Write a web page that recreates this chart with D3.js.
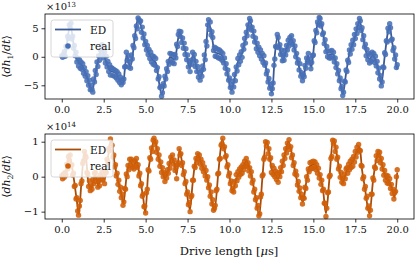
<!DOCTYPE html>
<html>
<head>
<meta charset="utf-8">
<script src="https://cdn.jsdelivr.net/npm/d3@7"></script>
<style>
body { margin: 0; background: #fff; }
text { font-family: "DejaVu Serif", "Liberation Serif", serif; }
</style>
</head>
<body>
<div id="chart"></div>
<script>
//time step of the measured points (us)
var dt = 0.05;

//x ticks
var xTicks = [0, 2.5, 5, 7.5, 10, 12.5, 15, 17.5, 20];
var yTicksTop = [-5, 0, 5];
var yTicksBottom = [-1, 0, 1];

//ED curve, panel 1 (units of 1e13): [time, value]
var edTop = [[0,0],[0.2,0.5],[0.5,5.5],[0.8,0.5],[1.0,-1],[1.2,-1.5],[1.5,-3.5],[1.8,-6],[2.1,-1.5],[2.4,1.5],
  [2.6,-0.5],[2.9,-2.5],[3.2,-2.8],[3.65,-4.7],[3.87,0.3],[4.07,-1.7],[4.56,6.6],[4.8,4.5],[5.0,2],[5.2,0.5],
  [5.4,-0.5],[5.6,-1],[5.95,-6.5],[6.25,-2.7],[6.45,0],[6.74,-0.5],[6.94,3.2],[7.04,4.3],[7.2,2.6],[7.44,0.2],
  [7.64,-2.0],[7.83,0.4],[8.0,-1.5],[8.23,-3.6],[8.43,-2.1],[8.63,2.6],[8.73,6.2],[8.9,4.5],[9.12,0.8],[9.42,0.5],
  [9.6,0],[9.82,-2.1],[10.12,-5.9],[10.32,-3.5],[10.5,-0.9],[10.7,0.2],[11.0,3.7],[11.2,6.4],[11.4,4.3],[11.6,2],
  [11.9,0.2],[12.1,-0.9],[12.3,-3.9],[12.54,-6.3],[12.7,0.2],[12.86,3.5],[13.0,1.5],[13.19,-0.4],[13.49,2.3],[13.69,3.2],
  [13.89,1.4],[14.08,-0.9],[14.29,-3.4],[14.38,-3.9],[14.58,-0.9],[14.68,0.2],[14.88,-1.8],[15.08,3.0],[15.38,6.6],[15.67,2.6],
  [15.87,0.3],[16.17,0.5],[16.37,-1.5],[16.57,-3.9],[16.76,-6.5],[16.96,-2.7],[17.16,0.8],[17.36,2.3],[17.56,4.3],[17.76,6.3],
  [17.95,3.7],[18.15,0.8],[18.35,-0.4],[18.55,0.2],[18.75,-0.9],[18.95,-3.3],[19.05,-4.8],[19.25,0],[19.44,4.3],[19.54,5.5],
  [19.7,2.5],[19.9,-0.5],[20.0,-2.2]];

//measured values, panel 1 (units of 1e13), one row per microsecond
var realTop = [
  0.2,-0.1,0.4,0.9,0.1,1.8,1.6,3.6,3.2,5.6,5.1,5.9,3.1,3.6,1.5,2.0,0.2,0.8,-0.9,-0.2,
  -1.6,-0.5,-2.0,-0.9,-2.2,-1.2,-2.9,-1.9,-3.4,-2.6,-4.2,-3.3,-5.0,-4.1,-5.8,-5.0,-5.7,-6.2,-3.9,-4.4,
  -2.4,-3.1,-0.9,-1.7,0.2,-0.6,1.2,0.3,2.1,1.6,-0.2,0.9,-1.1,0.1,-1.8,-0.8,-2.6,-1.4,-3.2,-1.9,
  -2.0,-3.3,-2.2,-3.4,-2.4,-3.7,-2.6,-4.1,-3.0,-4.5,-3.6,-4.9,-4.0,-4.5,-3.9,-1.8,-1.7,0.8,-0.6,0.2,
  -1.8,-0.9,-2.0,0.3,-0.4,2.0,1.6,3.7,3.2,5.4,4.9,6.8,6.5,6.1,6.3,4.3,5.2,3.3,4.0,2.1,
  2.7,1.2,2.0,0.4,1.3,-0.3,0.8,-0.9,0.2,-1.3,0.0,-1.5,-0.3,-2.4,-1.9,-3.9,-3.5,-5.4,-5.2,-6.9,
  -6.3,-4.7,-5.1,-3.4,-3.9,-2.1,-2.6,-0.8,-1.3,0.6,-0.7,0.5,-1.0,0.3,-1.2,0.4,-0.2,2.2,1.8,3.9,
  4.5,3.6,4.4,2.5,3.3,1.5,2.4,0.4,1.4,-0.5,0.3,-1.8,-0.9,-2.6,-0.6,-1.3,0.8,-0.4,0.4,-1.7,
  -0.8,-2.6,-1.7,-3.6,-2.7,-4.1,-2.4,-3.4,-1.6,-2.2,0.3,-0.5,2.7,1.9,5.6,6.5,4.8,6.1,3.8,4.4,
  3.4,1.1,1.7,0.1,1.5,0.0,1.3,-0.2,1.2,-0.3,0.9,-0.6,0.6,-1.1,-0.2,-2.0,-1.2,-3.0,-2.3,-4.1,
  -3.7,-5.4,-4.9,-6.2,-4.3,-5.3,-3.1,-4.2,-1.8,-2.5,-0.3,-1.4,0.3,-0.8,0.9,-0.1,2.0,1.3,3.2,2.4,
  4.3,3.7,5.6,5.0,6.7,6.3,4.7,5.2,3.6,4.5,2.6,3.3,1.4,2.4,0.8,1.7,0.2,1.2,-0.4,0.6,
  -1.0,0.2,-1.5,-1.1,-3.0,-2.5,-4.4,-3.8,-5.5,-4.9,-6.5,-5.6,-4.6,-1.5,-0.4,1.8,1.7,3.9,3.4,1.6,
  2.1,0.4,1.2,-0.7,0.3,-0.6,1.1,0.3,2.0,1.2,2.9,1.9,3.4,2.5,3.7,2.2,2.8,1.2,1.9,0.0,
  0.6,-1.1,-0.5,-2.3,-1.2,-3.4,-2.8,-4.2,-3.1,-3.5,-1.5,-2.0,-0.2,-0.8,0.6,-1.1,-0.4,-2.1,-1.0,0.2,
  0.3,2.8,2.5,4.6,4.2,6.1,5.6,6.9,6.7,5.4,5.8,3.9,4.2,2.3,3.0,0.9,1.8,0.0,1.0,-0.2,
  1.0,-0.2,1.1,0.0,0.8,-0.9,-0.2,-1.9,-1.2,-3.0,-2.4,-4.2,-3.7,-5.6,-5.2,-6.8,-6.2,-4.3,-4.4,-2.3,
  -2.6,-0.6,-1.0,1.2,0.5,2.1,1.3,2.9,2.1,3.9,3.2,4.9,4.1,5.8,5.1,6.7,6.3,4.6,5.1,3.0,
  3.7,1.7,2.2,0.2,1.3,-0.5,0.6,-1.1,0.4,-0.8,0.8,-0.4,0.6,-1.0,0.1,-1.6,-0.8,-2.8,-2.0,-3.9,
  -3.3,-5.1,-4.4,-1.8,-1.9,0.7,0.4,2.8,2.6,5.0,4.4,5.8,5.1,2.9,3.1,1.1,1.6,-0.4,0.3,-1.9,-1.4];

//ED curve, panel 2 (units of 1e14): [time, value]
var edBottom = [[0,0],[0.2,0.05],[0.45,0.6],[0.7,0.0],[0.9,-0.7],[1.02,-1.08],[1.15,-0.3],[1.3,0.55],[1.4,0.7],[1.58,-0.15],
  [1.75,-0.35],[1.98,0.05],[2.18,-0.25],[2.38,0.05],[2.55,-0.1],[2.77,0.6],[2.92,1.04],[3.17,0.32],[3.37,-0.15],[3.57,-0.53],
  [3.67,-0.77],[3.87,0.04],[4.07,0.45],[4.27,0.3],[4.46,0.45],[4.65,0.0],[4.86,-0.63],[4.98,-1.03],[5.15,0.1],[5.3,0.6],
  [5.52,1.08],[5.75,0.6],[5.95,0.23],[6.15,-0.06],[6.3,0.1],[6.55,0.55],[6.7,0.4],[6.85,0.05],[7.02,0.78],[7.2,0.3],
  [7.4,-0.25],[7.64,-0.95],[7.8,-0.2],[7.93,0.32],[8.13,0.62],[8.3,0.4],[8.63,0.04],[8.85,-0.45],[9.1,-0.97],[9.35,0.2],
  [9.57,1.07],[9.8,0.5],[10.0,0.0],[10.2,-0.42],[10.4,-0.05],[10.6,0.12],[10.8,0.23],[11.0,0.45],[11.3,0.04],[11.5,-0.44],
  [11.78,-1.1],[11.95,-0.1],[12.18,1.0],[12.4,0.6],[12.5,0.23],[12.7,0.1],[12.9,-0.05],[13.1,0.23],[13.29,0.6],[13.53,1.0],
  [13.8,0.42],[14.0,-0.06],[14.38,-0.72],[14.58,-0.15],[14.78,0.3],[15.08,0.35],[15.28,0.18],[15.57,-0.34],[15.75,-1.05],[15.95,-0.1],
  [16.17,1.07],[16.37,0.7],[16.57,0.13],[16.76,-0.15],[16.96,0.13],[17.16,0.32],[17.36,0.42],[17.66,0.8],[17.76,0.85],[17.9,0.2],
  [18.05,-0.25],[18.35,-1.06],[18.55,-0.15],[18.75,0.5],[18.9,0.68],[19.15,0.23],[19.34,-0.06],[19.5,-0.1],[19.74,-0.44],[19.84,-0.6],
  [20.0,0.12]];

//measured values, panel 2 (units of 1e14), one row per microsecond
var realBottom = [
  0.03,-0.06,0.08,-0.02,0.12,0.05,0.36,0.22,0.58,0.47,0.62,0.3,0.34,0.05,0.1,-0.28,-0.25,-0.64,-0.6,-0.98,
  -1.1,-0.84,-0.68,-0.2,-0.12,0.38,0.46,0.72,0.6,0.55,0.12,0.08,-0.28,-0.12,-0.4,-0.26,-0.36,-0.08,-0.2,0.1,
  0.12,-0.14,-0.04,-0.3,-0.12,-0.26,0.05,-0.08,0.14,-0.1,0.04,-0.2,0.16,0.12,0.5,0.42,0.8,0.74,1.08,0.9,
  0.9,0.56,0.62,0.28,0.34,0.02,0.1,-0.22,-0.1,-0.42,-0.3,-0.6,-0.5,-0.82,-0.72,-0.34,-0.36,0.08,0.0,0.32,
  0.2,0.5,0.32,0.5,0.26,0.42,0.22,0.46,0.3,0.52,0.26,0.34,0.02,0.1,-0.26,-0.2,-0.56,-0.5,-0.86,-0.84,
  -1.04,-0.46,-0.36,0.2,0.16,0.54,0.5,0.82,0.72,1.04,1.1,0.92,1.0,0.7,0.8,0.5,0.62,0.3,0.42,0.12,
  0.26,0.0,0.12,-0.14,0.08,-0.04,0.2,0.1,0.38,0.24,0.56,0.46,0.62,0.36,0.48,0.18,0.26,-0.06,0.34,0.4,
  0.8,0.62,0.66,0.32,0.4,0.06,0.14,-0.2,-0.14,-0.5,-0.44,-0.8,-0.74,-1.0,-0.58,-0.54,-0.1,-0.1,0.3,0.26,
  0.52,0.4,0.66,0.5,0.62,0.36,0.5,0.24,0.4,0.14,0.28,0.02,0.18,-0.1,0.0,-0.32,-0.24,-0.56,-0.44,-0.78,
  -0.66,-0.96,-0.9,-0.82,-0.4,-0.36,0.08,0.1,0.5,0.52,0.9,0.94,1.1,0.8,0.86,0.56,0.6,0.28,0.34,0.02,
  0.1,-0.2,-0.12,-0.4,-0.34,-0.44,-0.14,-0.26,0.06,-0.12,0.14,-0.02,0.22,0.06,0.28,0.1,0.34,0.2,0.44,0.3,
  0.52,0.3,0.4,0.16,0.26,0.02,0.14,-0.18,-0.1,-0.44,-0.36,-0.66,-0.6,-0.9,-0.82,-1.12,-1.06,-0.58,-0.5,0.02,
  0.06,0.5,0.56,1.0,0.88,0.98,0.66,0.8,0.5,0.54,0.12,0.32,0.06,0.24,0.0,0.16,-0.08,0.1,-0.16,0.12,
  0.0,0.26,0.14,0.44,0.32,0.62,0.52,0.8,0.68,0.96,0.86,1.06,0.78,0.86,0.54,0.62,0.32,0.4,0.08,0.16,
  0.04,-0.24,-0.14,-0.42,-0.32,-0.6,-0.5,-0.78,-0.6,-0.62,-0.3,-0.34,0.0,-0.1,0.22,0.14,0.4,0.22,0.42,0.24,
  0.44,0.26,0.42,0.2,0.34,0.1,0.24,-0.04,0.06,-0.22,-0.1,-0.4,-0.36,-0.76,-0.76,-1.14,-0.9,-0.46,-0.44,0.0,
  0.04,0.52,0.58,1.04,0.94,1.02,0.72,0.84,0.5,0.56,0.22,0.3,-0.02,0.12,-0.16,-0.04,-0.2,0.08,-0.06,0.22,
  0.26,0.1,0.36,0.2,0.44,0.26,0.5,0.3,0.58,0.42,0.72,0.56,0.84,0.7,0.92,0.76,0.74,0.32,0.3,-0.06,
  0.0,-0.36,-0.28,-0.62,-0.56,-0.9,-0.84,-1.12,-0.96,-0.5,-0.5,-0.04,-0.1,0.28,0.24,0.6,0.46,0.72,0.6,0.7,
  0.4,0.52,0.22,0.34,0.04,0.18,-0.1,0.04,-0.18,0.02,-0.2,-0.06,-0.34,-0.22,-0.48,-0.36,-0.64,-0.46,-0.42,0.0,0.2];

//svg size
var svgW = 416;
var svgH = 260;
var fontFam = "'DejaVu Serif', 'Liberation Serif', serif";

var svg = d3.select("#chart").append("svg")
    .attr("width", svgW)
    .attr("height", svgH)
    .style("font-family", fontFam);

//shared x scale
var xScale = d3.scaleLinear().domain([-1, 21]).range([45, 414]);

//panel settings
var panels = [
    {top: 14, bottom: 99, domain: [-7.4, 7.5], ticks: yTicksTop, ed: edTop, real: realTop,
     exp: "13", sub: "1", lineColor: "#3b5a96", dotColor: "#4870b6"},
    {top: 134, bottom: 219, domain: [-1.21, 1.22], ticks: yTicksBottom, ed: edBottom, real: realBottom,
     exp: "14", sub: "2", lineColor: "#a94c08", dotColor: "#cf5f08"}
];

panels.forEach(function(p) {
    var yScale = d3.scaleLinear().domain(p.domain).range([p.bottom, p.top]);
    var g = svg.append("g");

    //ED line
    var line = d3.line()
        .x(d => xScale(d[0]))
        .y(d => yScale(d[1]))
        .curve(d3.curveMonotoneX);

    g.append("path")
        .datum(p.ed)
        .attr("fill", "none")
        .attr("stroke", p.lineColor)
        .attr("stroke-width", 1.8)
        .attr("d", line);

    //measured points
    g.selectAll("circle.real")
        .data(p.real)
        .enter()
        .append("circle")
        .attr("class", "real")
        .attr("cx", (d, i) => xScale(i * dt))
        .attr("cy", d => yScale(d))
        .attr("r", 2.7)
        .attr("fill", p.dotColor)
        .attr("opacity", 0.88);

    //axes
    var xAxis = g.append("g")
        .attr("transform", `translate(0, ${p.bottom})`)
        .call(d3.axisBottom(xScale).tickValues(xTicks).tickSize(3.5).tickPadding(3).tickFormat(d3.format(".1f")));

    var yAxis = g.append("g")
        .attr("transform", `translate(45, 0)`)
        .call(d3.axisLeft(yScale).tickValues(p.ticks).tickSize(3.5).tickPadding(3).tickFormat(d3.format("d")));

    [xAxis, yAxis].forEach(function(a) {
        a.attr("font-family", fontFam).attr("font-size", 10);
        a.select(".domain").remove();
        a.selectAll("line").attr("stroke", "#000").attr("stroke-width", 0.8);
        a.selectAll("text").attr("fill", "#111");
    });

    //frame
    g.append("rect")
        .attr("x", 45)
        .attr("y", p.top)
        .attr("width", 414 - 45)
        .attr("height", p.bottom - p.top)
        .attr("fill", "none")
        .attr("stroke", "#000")
        .attr("stroke-width", 0.8);

    //offset text x10^n
    var off = g.append("text")
        .attr("x", 46)
        .attr("y", p.top - 4)
        .attr("font-size", 10)
        .attr("fill", "#111");
    off.append("tspan").text("×10");
    off.append("tspan").attr("font-size", 7).attr("dy", -3.5).text(p.exp);

    //y label
    var yl = g.append("text")
        .attr("transform", `translate(10, ${(p.top + p.bottom) / 2}) rotate(-90)`)
        .attr("text-anchor", "middle")
        .attr("font-size", 11)
        .attr("fill", "#111");
    yl.append("tspan").text("⟨");
    yl.append("tspan").attr("font-style", "italic").text("dh");
    yl.append("tspan").attr("font-size", 7.5).attr("dy", 2.5).text(p.sub);
    yl.append("tspan").attr("dy", -2.5).text("/");
    yl.append("tspan").attr("font-style", "italic").text("dt");
    yl.append("tspan").text("⟩");

    //legend
    var lg = g.append("g").attr("transform", `translate(51, ${p.top + 6})`);
    lg.append("rect")
        .attr("width", 62)
        .attr("height", 37)
        .attr("rx", 2.5)
        .attr("fill", "#fff")
        .attr("fill-opacity", 0.8)
        .attr("stroke", "#ccc")
        .attr("stroke-width", 0.8);
    lg.append("line")
        .attr("x1", 4).attr("x2", 30)
        .attr("y1", 9.5).attr("y2", 9.5)
        .attr("stroke", p.lineColor)
        .attr("stroke-width", 1.8);
    lg.append("circle")
        .attr("cx", 17).attr("cy", 26)
        .attr("r", 2.8)
        .attr("fill", p.dotColor);
    lg.append("text").attr("x", 39).attr("y", 13.5).attr("font-size", 10.5).attr("fill", "#111").text("ED");
    lg.append("text").attr("x", 39).attr("y", 30).attr("font-size", 10.5).attr("fill", "#111").text("real");
});

//x label
var xl = svg.append("text")
    .attr("x", 229)
    .attr("y", 255)
    .attr("text-anchor", "middle")
    .attr("font-size", 11.5)
    .attr("fill", "#111");
xl.append("tspan").text("Drive length [");
xl.append("tspan").attr("font-style", "italic").text("μ");
xl.append("tspan").text("s]");
</script>
</body>
</html>
